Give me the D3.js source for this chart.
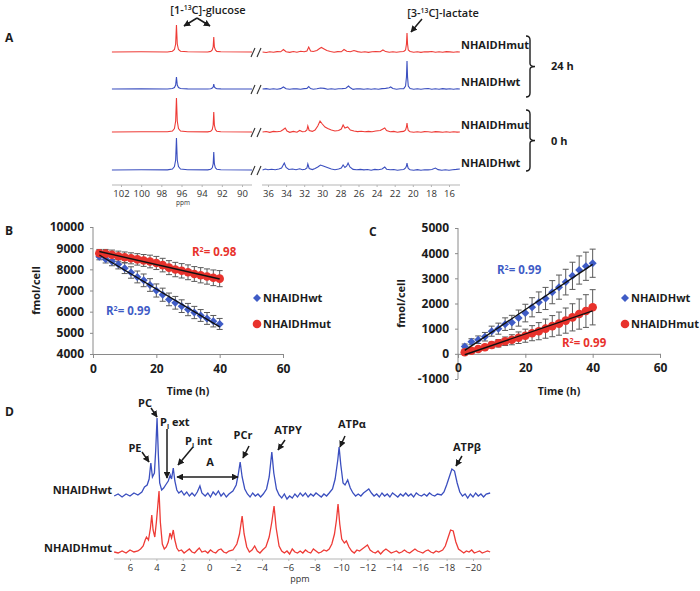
<!DOCTYPE html>
<html><head><meta charset="utf-8">
<script src="https://cdn.jsdelivr.net/npm/d3@7"></script>
<style>body{margin:0;background:#fff}text{font-family:'Open Sans',sans-serif}</style>
</head><body><svg id="fig" width="700" height="591"></svg>
<script>
// ---------------- DATA ----------------
// Panel B / C time series
const timeH = [2,4,6,8,10,12,14,16,18,20,22,24,26,28,30,32,34,36,38,40];
const glcWt    = [8600,8480,8370,8240,8050,7850,7640,7480,7260,7000,6800,6580,6420,6260,6100,5960,5820,5680,5550,5420];
const glcWtSd  = [150,180,200,220,250,270,280,300,300,310,310,300,300,300,290,290,280,280,270,260];
const glcMut   = [8760,8740,8690,8620,8570,8520,8470,8420,8370,8300,8200,8080,7990,7930,7860,7780,7720,7660,7600,7560];
const glcMutSd = [180,200,220,240,250,260,270,280,300,310,320,330,340,340,350,350,360,360,370,380];
const lacWt    = [290,480,560,680,900,1000,1180,1250,1420,1620,1850,2050,2200,2450,2650,2850,3100,3330,3480,3600];
const lacWtSd  = [100,120,150,170,200,220,250,280,320,350,380,410,440,460,480,510,540,560,560,560];
const lacMut   = [60,120,190,260,350,420,500,560,640,720,820,900,1000,1100,1200,1320,1450,1580,1700,1850];
const lacMutSd = [50,60,80,100,120,150,170,200,230,260,300,340,380,420,460,500,540,600,650,700];
const bTicksY = [4000,5000,6000,7000,8000,9000,10000];
const cTicksY = [-1000,0,1000,2000,3000,4000,5000];
const timeTicks = [0,20,40,60];
const seriesNames = ["NHAIDHwt","NHAIDHmut"];
const r2B = ["0.99","0.98"];
const r2C = ["0.99","0.99"];

// Panel A 13C spectra: [ppm, intensity]
const aRowNames = ["NHAIDHmut","NHAIDHwt","NHAIDHmut","NHAIDHwt"];
const aGroups = ["24 h","0 h"];
const aTicksL = [102,100,98,96,94,92,90];
const aTicksR = [36,34,32,30,28,26,24,22,20,18,16];
const a24mutL = [[102.9,0],[100,0.2],[97.4,0],[96.9,0.8],[96.7,2.5],[96.58,8],[96.5,27],[96.42,8],[96.3,2.5],[96.1,0.8],[95.4,0.2],[93.4,0],[93.1,0.6],[92.95,2],[92.86,5],[92.8,15],[92.74,5],[92.64,2],[92.5,0.6],[92.1,0.2],[89,0]];
const a24mutR = [[36.6,0],[36.2,-0.5],[35.8,0.3],[35.4,-0.3],[35.0,0.4],[34.6,0.2],[34.3,2.5],[34.0,0.3],[33.6,-0.4],[33.2,0.5],[32.8,-0.2],[32.4,0.8],[32.0,0.2],[31.7,1],[31.5,5],[31.3,1],[31.0,0.5],[30.6,1.5],[30.3,3.5],[30.1,4.5],[29.8,3],[29.5,1.5],[29.1,0.5],[28.7,-0.3],[28.3,0.4],[27.9,0.2],[27.6,2.5],[27.3,0.8],[26.9,0.3],[26.5,1.5],[26.1,0.4],[25.7,-0.2],[25.3,0.3],[24.9,-0.4],[24.5,0.2],[24.1,0.5],[23.6,0.3],[23.3,2],[23.0,0.4],[22.6,-0.3],[22.2,0.2],[21.8,-0.2],[21.4,0.3],[21.0,0.5],[20.8,2],[20.7,8],[20.64,19],[20.58,8],[20.5,2],[20.3,0.5],[19.9,-0.3],[19.5,0.2],[19.1,-0.4],[18.7,0.3],[18.3,0.1],[17.9,0.5],[17.5,-0.2],[17.1,0.3],[16.7,-0.3],[16.3,0.4],[15.9,0.1],[15.5,-0.2],[15.1,0.2],[14.8,0]];
const a24wtL = [[102.9,0],[100,0.1],[97.4,0],[96.9,0.5],[96.7,1.5],[96.58,4],[96.5,12],[96.42,4],[96.3,1.5],[96.1,0.5],[95.4,0.1],[93.4,0],[93.1,0.3],[92.95,1],[92.86,2],[92.8,5],[92.74,2],[92.64,1],[92.5,0.3],[92.1,0.1],[89,0]];
const a24wtR = [[36.6,0],[36.2,0.4],[35.8,-0.3],[35.4,0.3],[35.0,-0.2],[34.6,0.4],[34.3,2],[34.0,0.2],[33.6,-0.3],[33.2,0.3],[32.8,0.1],[32.4,-0.2],[32.0,0.4],[31.7,0.6],[31.5,2.5],[31.3,0.5],[31.0,-0.2],[30.6,0.3],[30.2,1],[29.8,0.6],[29.4,-0.2],[29.0,0.3],[28.6,-0.3],[28.2,0.2],[27.8,0.4],[27.4,0.8],[27.1,3],[26.9,1.2],[26.6,-0.4],[26.2,0.3],[25.8,0.1],[25.4,-0.3],[25.0,0.3],[24.6,-0.2],[24.2,0.2],[23.8,-0.3],[23.4,0.4],[23.0,0.6],[22.6,1.2],[22.45,2],[22.2,0.5],[21.8,-0.2],[21.4,0.2],[21.0,0.4],[20.8,3],[20.7,12],[20.64,28],[20.58,12],[20.5,3],[20.3,0.4],[19.9,-0.2],[19.5,0.3],[19.1,-0.3],[18.7,0.2],[18.3,0.5],[17.9,-0.2],[17.5,0.3],[17.1,-0.2],[16.7,0.4],[16.3,-0.1],[15.9,0.2],[15.5,-0.3],[15.1,0.3],[14.8,0]];
const a0mutL = [[102.9,0],[100,0.3],[97.4,0.2],[96.9,1],[96.7,3.5],[96.58,11],[96.5,34],[96.42,11],[96.3,3.5],[96.1,1],[95.4,0.3],[93.4,0.1],[93.1,0.8],[92.95,2.5],[92.86,7],[92.8,20],[92.74,7],[92.64,2.5],[92.5,0.8],[92.1,0.2],[89,0]];
const a0mutR = [[36.6,0],[36.2,0.5],[35.8,-0.4],[35.4,0.6],[35.0,0.2],[34.6,0.8],[34.3,2.5],[34.1,4],[33.9,1],[33.6,-0.3],[33.2,0.6],[32.8,-0.2],[32.5,1.5],[32.2,0.2],[31.9,0.5],[31.7,2],[31.6,6],[31.45,1.5],[31.1,0.6],[30.8,2],[30.5,6],[30.25,11],[30.0,8],[29.7,5],[29.4,3.5],[29.0,2],[28.6,1],[28.2,1.5],[27.9,3],[27.7,7],[27.5,4],[27.2,5],[26.9,2],[26.5,1],[26.1,0.4],[25.7,0.8],[25.3,0.2],[24.9,0.6],[24.5,0.2],[24.1,1],[23.6,1.5],[23.3,3],[23.1,4],[22.9,1.5],[22.5,0.3],[22.1,0.6],[21.7,-0.2],[21.3,0.4],[21.0,0.6],[20.8,2],[20.7,5],[20.64,9],[20.58,5],[20.5,1.5],[20.3,0.3],[19.9,-0.3],[19.5,0.3],[19.1,-0.2],[18.7,0.4],[18.3,0.2],[17.9,-0.3],[17.5,0.4],[17.1,0.1],[16.7,-0.2],[16.3,0.3],[15.9,-0.2],[15.5,0.2],[15.1,-0.1],[14.8,0]];
const a0wtL = [[102.9,0],[100,0.2],[97.4,0.1],[96.9,1],[96.7,3.5],[96.58,10],[96.5,32],[96.42,10],[96.3,3.5],[96.1,1],[95.4,0.3],[93.4,0.1],[93.1,0.8],[92.95,2.2],[92.86,6],[92.8,18],[92.74,6],[92.64,2.2],[92.5,0.8],[92.1,0.2],[89,0]];
const a0wtR = [[36.6,0],[36.3,1],[36.0,0.2],[35.6,0.8],[35.2,0.3],[34.8,1],[34.5,2],[34.2,7],[34.0,2.5],[33.7,0.5],[33.3,1],[32.9,0.3],[32.5,1.2],[32.2,0.2],[31.9,0.8],[31.7,2],[31.6,6],[31.45,1.5],[31.1,0.4],[30.8,1.5],[30.5,3],[30.2,5],[29.9,4],[29.6,3],[29.3,2],[29.0,1],[28.6,0.3],[28.2,1],[27.9,2],[27.7,5],[27.5,2.5],[27.3,4],[27.15,7],[26.95,3],[26.6,0.6],[26.2,0.2],[25.8,0.6],[25.4,0.1],[25.0,0.5],[24.6,-0.2],[24.2,0.6],[23.8,0.2],[23.4,1],[23.1,3],[22.9,0.8],[22.5,0.2],[22.1,0.5],[21.7,-0.2],[21.3,0.3],[21.0,0.5],[20.8,2],[20.7,4],[20.64,7],[20.58,4],[20.5,1.5],[20.3,0.2],[19.9,-0.3],[19.5,0.4],[19.1,-0.2],[18.7,0.3],[18.3,0.1],[17.9,0.5],[17.5,2],[17.2,0.4],[16.8,-0.2],[16.4,0.3],[16.0,-0.2],[15.6,0.3],[15.2,0.6],[14.8,1]];

// Panel D 31P spectra: [ppm, intensity]
const dTicks = [6,4,2,0,-2,-4,-6,-8,-10,-12,-14,-16,-18,-20];
const dWt = [[7.2,-1],[6.9,1],[6.6,-2],[6.3,1],[6.0,-1],[5.7,2],[5.4,0],[5.1,3],[4.9,8],[4.7,10],[4.55,16],[4.42,32],[4.3,18],[4.15,22],[4.05,45],[3.95,77],[3.85,40],[3.75,12],[3.6,5],[3.45,7],[3.3,10],[3.1,14],[2.95,20],[2.85,16],[2.72,27],[2.6,14],[2.45,5],[2.3,2],[2.1,4],[1.9,0],[1.7,3],[1.5,-1],[1.3,2],[1.1,-1],[0.9,3],[0.7,9],[0.55,2],[0.3,-1],[0.1,2],[-0.1,-2],[-0.3,3],[-0.5,0],[-0.7,4],[-0.9,-1],[-1.1,2],[-1.3,-2],[-1.5,1],[-1.8,4],[-2.05,10],[-2.2,20],[-2.35,33],[-2.5,18],[-2.7,6],[-2.9,1],[-3.1,-2],[-3.3,2],[-3.5,-1],[-3.7,1],[-3.9,-2],[-4.1,1],[-4.35,6],[-4.55,18],[-4.75,43],[-4.9,22],[-5.1,6],[-5.3,0],[-5.5,-3],[-5.7,1],[-5.9,-4],[-6.1,-1],[-6.3,-3],[-6.5,1],[-6.7,-2],[-6.9,2],[-7.1,-1],[-7.3,2],[-7.5,-2],[-7.7,1],[-7.9,-1],[-8.1,2],[-8.3,0],[-8.5,-2],[-8.7,1],[-8.9,-1],[-9.1,2],[-9.35,6],[-9.55,16],[-9.75,35],[-9.85,48],[-9.98,30],[-10.15,12],[-10.3,10],[-10.5,15],[-10.7,7],[-10.9,2],[-11.1,-1],[-11.3,1],[-11.5,-1],[-11.7,2],[-11.9,4],[-12.1,6],[-12.3,2],[-12.5,-1],[-12.7,1],[-12.9,-2],[-13.1,2],[-13.3,-1],[-13.5,1],[-13.7,-2],[-13.9,2],[-14.1,0],[-14.3,-2],[-14.5,1],[-14.7,-1],[-14.9,2],[-15.1,-1],[-15.3,1],[-15.5,-2],[-15.7,2],[-15.9,0],[-16.1,-1],[-16.3,1],[-16.5,-1],[-16.7,2],[-16.9,0],[-17.1,-1],[-17.3,1],[-17.6,0],[-17.8,3],[-18.0,10],[-18.2,18],[-18.4,26],[-18.6,24],[-18.8,12],[-19.0,3],[-19.2,-1],[-19.4,1],[-19.6,-3],[-19.8,1],[-20.0,-2],[-20.2,2],[-20.4,-1],[-20.6,1],[-20.8,-2],[-21.0,1],[-21.3,2]];
const dMut = [[7.2,0],[6.9,-1],[6.6,1],[6.3,-1],[6.0,2],[5.7,0],[5.4,1],[5.2,3],[5.0,6],[4.85,12],[4.75,15],[4.6,12],[4.45,24],[4.35,37],[4.25,22],[4.12,15],[4.0,30],[3.9,45],[3.8,61],[3.7,30],[3.55,8],[3.4,3],[3.25,5],[3.1,10],[2.97,19],[2.85,14],[2.72,22],[2.6,12],[2.45,4],[2.3,1],[2.1,2],[1.9,-1],[1.7,1],[1.5,3],[1.3,0],[1.1,-1],[0.9,2],[0.75,4],[0.55,0],[0.3,1],[0.1,-1],[-0.1,2],[-0.3,0],[-0.5,-1],[-0.7,2],[-0.9,3],[-1.1,0],[-1.3,-1],[-1.5,1],[-1.8,2],[-2.1,8],[-2.3,18],[-2.5,36],[-2.65,18],[-2.85,5],[-3.05,0],[-3.25,2],[-3.45,6],[-3.65,1],[-3.85,-1],[-4.05,2],[-4.3,5],[-4.55,15],[-4.75,30],[-4.92,46],[-5.08,24],[-5.3,6],[-5.5,1],[-5.7,-1],[-5.9,1],[-6.1,-2],[-6.3,3],[-6.5,0],[-6.7,-1],[-6.9,1],[-7.1,-1],[-7.3,2],[-7.5,0],[-7.7,-1],[-7.9,3],[-8.1,1],[-8.3,-1],[-8.5,0],[-8.7,2],[-8.9,1],[-9.1,3],[-9.3,8],[-9.5,18],[-9.65,32],[-9.77,48],[-9.9,28],[-10.05,13],[-10.25,9],[-10.4,11],[-10.6,5],[-10.8,1],[-11.0,-1],[-11.2,2],[-11.4,1],[-11.6,3],[-11.8,5],[-12.0,7],[-12.2,2],[-12.4,0],[-12.6,-1],[-12.8,1],[-13.0,-2],[-13.2,1],[-13.4,3],[-13.6,1],[-13.8,-1],[-14.0,0],[-14.2,1],[-14.4,-1],[-14.6,0],[-14.8,2],[-15.0,0],[-15.2,-1],[-15.4,1],[-15.6,3],[-15.8,1],[-16.0,0],[-16.2,-1],[-16.4,1],[-16.6,2],[-16.8,0],[-17.0,-1],[-17.2,1],[-17.4,0],[-17.7,2],[-17.9,6],[-18.1,14],[-18.3,22],[-18.5,21],[-18.7,10],[-18.9,3],[-19.1,1],[-19.3,-1],[-19.5,1],[-19.7,0],[-19.9,2],[-20.1,-1],[-20.3,0],[-20.5,1],[-20.7,-1],[-20.9,0],[-21.1,1],[-21.3,0]];

// ---------------- DRAWING ----------------
const BLUE = "#3b4fbf", RED = "#ee3b36", INK = "#1c1c1c";
const svg = d3.select("#fig");
const defs = svg.append("defs");
defs.append("marker").attr("id","ah").attr("viewBox","0 0 10 10").attr("refX",9).attr("refY",5)
  .attr("markerWidth",4.5).attr("markerHeight",4.5).attr("orient","auto-start-reverse")
  .append("path").attr("d","M0,0L10,5L0,10z").attr("fill",INK);

function txt(x,y,s,o={}){
  return svg.append("text").attr("x",x).attr("y",y).attr("dy","0.35em")
    .attr("font-size",o.size||11).attr("font-weight",o.weight||700)
    .attr("fill",o.fill||INK).attr("text-anchor",o.anchor||"start").text(s);
}
function arrow(x1,y1,x2,y2,both){
  svg.append("line").attr("x1",x1).attr("y1",y1).attr("x2",x2).attr("y2",y2)
    .attr("stroke",INK).attr("stroke-width",1.5)
    .attr("marker-end","url(#ah)").attr("marker-start",both?"url(#ah)":null);
}
function supText(x,y,pre,sup,post,o={}){
  const t = svg.append("text").attr("x",x).attr("y",y).attr("dy","0.35em")
    .attr("font-size",o.size||11).attr("font-weight",o.weight||700)
    .attr("fill",o.fill||INK).attr("text-anchor",o.anchor||"start");
  t.append("tspan").text(pre);
  t.append("tspan").attr("font-size",(o.size||11)*0.62).attr("dy",-4).text(sup);
  t.append("tspan").attr("dy",4).text(post);
  return t;
}
function subText(x,y,pre,sub,post){
  const t = svg.append("text").attr("x",x).attr("y",y).attr("dy","0.35em")
    .attr("font-size",11).attr("font-weight",700).attr("fill",INK);
  t.append("tspan").text(pre);
  t.append("tspan").attr("font-size",7).attr("dy",3).text(sub);
  t.append("tspan").attr("dy",-3).text(post);
}

// panel letters
txt(5,38,"A",{size:12}); txt(5,231,"B",{size:12}); txt(369,232,"C",{size:12}); txt(5,412,"D",{size:12});

// ----- Panel A -----
const xAL = d3.scaleLinear().domain([102,90]).range([121,242]);
const xAR = d3.scaleLinear().domain([36,16]).range([268,449]);
const aBase = [52,89,132,170];
const aSpectra = [[a24mutL,a24mutR],[a24wtL,a24wtR],[a0mutL,a0mutR],[a0wtL,a0wtR]];
const aColors = [RED,BLUE,RED,BLUE];
aSpectra.forEach((pair,i)=>{
  const y = d3.scaleLinear().domain([0,40]).range([aBase[i],aBase[i]-40]);
  [[pair[0],xAL],[pair[1],xAR]].forEach(([data,x])=>{
    svg.append("path").attr("d",d3.line().x(d=>x(d[0])).y(d=>y(d[1]))(data))
      .attr("fill","none").attr("stroke",aColors[i]).attr("stroke-width",1.1);
  });
  const b = aBase[i];
  [[251,256],[257,262]].forEach(([xa,xb])=>svg.append("line").attr("x1",xa).attr("y1",b+5).attr("x2",xb-1).attr("y2",b-4)
    .attr("stroke","#333").attr("stroke-width",1.1));
  txt(461,b-7,aRowNames[i],{size:11});
});
// ppm axes
function ppmAxis(x, ticks, minor, y, x0, x1){
  svg.append("line").attr("x1",x0).attr("x2",x1).attr("y1",y).attr("y2",y).attr("stroke","#b5b5b5").attr("stroke-width",1);
  const g = svg.append("g").attr("transform",`translate(0,${y})`);
  g.call(d3.axisBottom(x).tickValues(minor).tickSize(2).tickFormat(""));
  g.call(d3.axisBottom(x).tickValues(ticks).tickSize(2).tickPadding(3));
  g.selectAll(".domain").remove();
  g.selectAll("line").attr("stroke","#b5b5b5");
  g.selectAll("text").attr("font-size",9.5).attr("fill","#333").attr("font-family","'Open Sans',sans-serif");
}
ppmAxis(xAL, aTicksL, d3.range(89,103,1), 185, 112, 252);
ppmAxis(xAR, aTicksR, d3.range(15,37,1), 185, 262, 460);
txt(183,203,"ppm",{size:6.5,weight:400,anchor:"middle",fill:"#333"});
// A annotations
supText(208,10,"[1-","13","C]-glucose",{size:11,weight:600,anchor:"middle"});
arrow(197,18,184,26); arrow(197,18,210,26);
supText(443,13,"[3-","13","C]-lactate",{size:11,weight:600,anchor:"middle"});
arrow(422,19,411,32);
function brace(x,y0,y1){
  const m=(y0+y1)/2;
  svg.append("path").attr("d",`M${x-4},${y0} Q${x},${y0} ${x},${y0+4} L${x},${m-3} Q${x},${m} ${x+5},${m} Q${x},${m} ${x},${m+3} L${x},${y1-4} Q${x},${y1} ${x-4},${y1}`)
    .attr("fill","none").attr("stroke",INK).attr("stroke-width",1.4);
}
brace(530,36,97); brace(530,110,171);
txt(551,66,aGroups[0],{size:11}); txt(551,141,aGroups[1],{size:11});

// ----- Panels B & C -----
function scatterPanel(x,y,yTicks,xAxisY,series,r2,r2pos,legX){
  const gy = svg.append("g").attr("transform",`translate(${x.range()[0]},0)`)
    .call(d3.axisLeft(y).tickValues(yTicks).tickSize(3).tickPadding(6).tickFormat(d=>String(d)));
  const gx = svg.append("g").attr("transform",`translate(0,${xAxisY})`)
    .call(d3.axisBottom(x).tickValues(timeTicks).tickSize(4).tickPadding(6).tickFormat(d=>String(d)));
  [gx,gy].forEach(g=>{g.selectAll("path,line").attr("stroke","#8a8a8a");
    g.selectAll("text").attr("font-size",12).attr("font-weight",700).attr("fill",INK).attr("font-family","'Open Sans',sans-serif");});
  gy.select(".domain").attr("d",`M0,${y.range()[0]}V${y.range()[1]}`);
  series.forEach(s=>{
    const g = svg.append("g");
    s.v.forEach((v,i)=>{
      const cx = x(timeH[i]), top=y(v+s.sd[i]), bot=y(v-s.sd[i]);
      g.append("line").attr("x1",cx).attr("x2",cx).attr("y1",top).attr("y2",bot).attr("stroke","#5a5a5a").attr("stroke-width",1);
      [top,bot].forEach(yy=>g.append("line").attr("x1",cx-3).attr("x2",cx+3).attr("y1",yy).attr("y2",yy).attr("stroke","#5a5a5a").attr("stroke-width",1));
    });
  });
  series.forEach(s=>{
    s.v.forEach((v,i)=>{
      if(s.shape==="d") svg.append("path").attr("d",d3.symbol(d3.symbolSquare,32)()).attr("transform",`translate(${x(timeH[i])},${y(v)}) rotate(45)`).attr("fill",s.color);
      else svg.append("circle").attr("cx",x(timeH[i])).attr("cy",y(v)).attr("r",4.3).attr("fill",s.color);
    });
  });
  series.forEach(s=>{
    const mx=d3.mean(timeH), my=d3.mean(s.v);
    let sxy=0,sxx=0; timeH.forEach((t,i)=>{sxy+=(t-mx)*(s.v[i]-my);sxx+=(t-mx)*(t-mx);});
    const b=sxy/sxx, a=my-b*mx, t0=timeH[0], t1=timeH[timeH.length-1];
    svg.append("line").attr("x1",x(t0)).attr("y1",y(a+b*t0)).attr("x2",x(t1)).attr("y2",y(a+b*t1)).attr("stroke","#111").attr("stroke-width",1.4);
  });
  series.forEach((s,k)=>{
    supText(r2pos[k][0],r2pos[k][1],"R","2","= "+r2[k],{fill:s.color,size:11.5});
    const ly = [298,324][k];
    if(s.shape==="d") svg.append("path").attr("d",d3.symbol(d3.symbolSquare,32)()).attr("transform",`translate(${legX},${ly}) rotate(45)`).attr("fill",s.color);
    else svg.append("circle").attr("cx",legX).attr("cy",ly).attr("r",4.3).attr("fill",s.color);
    txt(legX+6,ly,s.name,{size:11});
  });
  const xm = (x.range()[0]+x.range()[1])/2;
  txt(xm,391,"Time (h)",{size:10.5,anchor:"middle"});
  const yl = (y.range()[0]+y.range()[1])/2;
  svg.append("text").attr("transform",`translate(${x.range()[0]-57},${yl}) rotate(-90)`).attr("text-anchor","middle").attr("dy","0.35em")
    .attr("font-size",11).attr("font-weight",700).attr("fill",INK).text("fmol/cell");
}
const xB = d3.scaleLinear().domain([0,60]).range([93,283]);
const yB = d3.scaleLinear().domain([4000,10000]).range([354,227]);
scatterPanel(xB,yB,bTicksY,354,[
  {v:glcWt,sd:glcWtSd,color:"#3f5cc6",shape:"d",name:seriesNames[0]},
  {v:glcMut,sd:glcMutSd,color:"#e8322c",shape:"c",name:seriesNames[1]}],
  r2B,[[106,311],[192,252]],257);
const xC = d3.scaleLinear().domain([0,60]).range([458,660]);
const yC = d3.scaleLinear().domain([-1000,5000]).range([379,228]);
scatterPanel(xC,yC,cTicksY,yC(0),[
  {v:lacWt,sd:lacWtSd,color:"#3f5cc6",shape:"d",name:seriesNames[0]},
  {v:lacMut,sd:lacMutSd,color:"#e8322c",shape:"c",name:seriesNames[1]}],
  r2C,[[497,270],[562,343]],625);

// ----- Panel D -----
const xD = d3.scaleLinear().domain([6,-20]).range([130,473]);
[[dWt,495,BLUE],[dMut,552,RED]].forEach(([data,b,c])=>{
  const y = d3.scaleLinear().domain([0,80]).range([b,b-80]);
  svg.append("path").attr("d",d3.line().x(d=>xD(d[0])).y(d=>y(d[1]))(data))
    .attr("fill","none").attr("stroke",c).attr("stroke-width",1.3);
});
txt(112,490,seriesNames[0],{size:11,anchor:"end"});
txt(112,548,seriesNames[1],{size:11,anchor:"end"});
ppmAxis(xD, dTicks, d3.range(-21,8,1), 559, 114, 490);
txt(300,579,"ppm",{size:9,weight:400,anchor:"middle",fill:"#333"});
// D annotations
txt(145,403,"PC",{anchor:"middle"}); arrow(151,408,157,417);
txt(135,448,"PE",{anchor:"middle"}); arrow(142,452,149,462);
subText(160,422,"P","i"," ext"); arrow(167,429,167,478);
subText(185,441,"P","i"," int"); arrow(193,447,178,465);
txt(210,462,"A",{anchor:"middle"}); arrow(177,477,238,477,true);
txt(243,435,"PCr",{anchor:"middle"}); arrow(249,446,243,458);
txt(288,430,"ATPY",{anchor:"middle"}); arrow(285,440,278,450);
txt(352,424,"ATP\u03b1",{anchor:"middle"}); arrow(345,436,340,447);
txt(467,447,"ATP\u03b2",{anchor:"middle"}); arrow(462,456,456,466);
</script></body></html>
